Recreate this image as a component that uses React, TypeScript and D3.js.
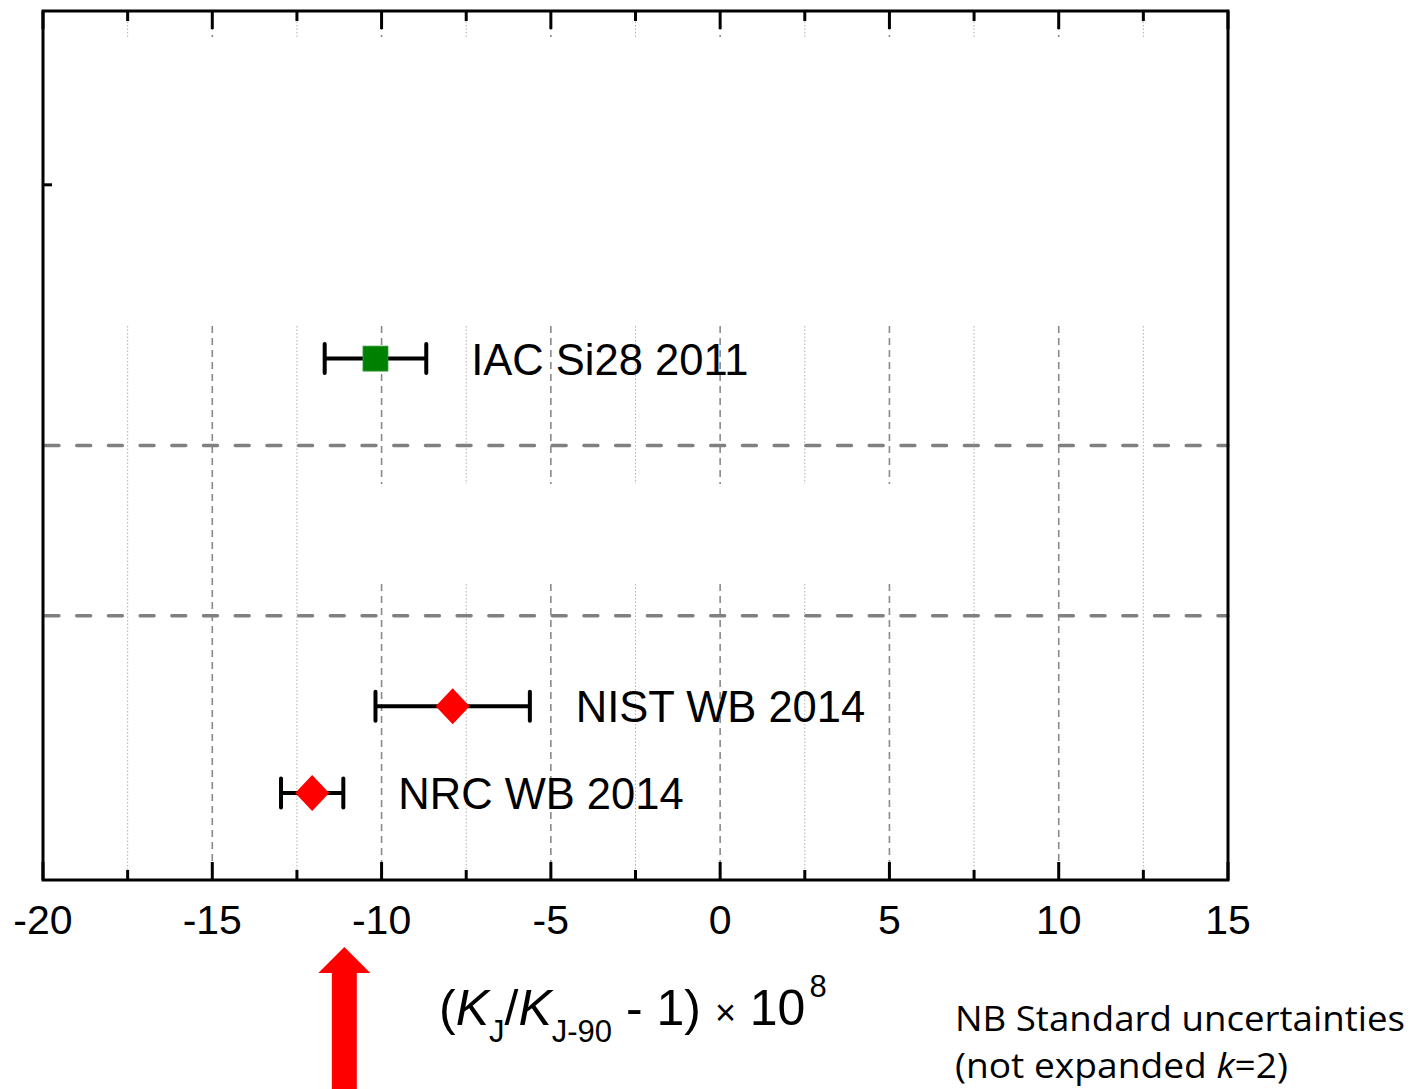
import React from "react";
import * as d3 from "d3";

// ---- data ----
const labels = ["IAC Si28 2011", "NIST WB 2014", "NRC WB 2014"];
const values = [-10.18, -7.9, -12.05];
const uncertainties = [1.5, 2.28, 0.92];
const rows = [6, 2, 1];
const markerShapes = ["square", "diamond", "diamond"];
const markerColors = ["#008000", "#ff0000", "#ff0000"];
const separatorRows = [5, 3.04];
const majorTicks = [-20, -15, -10, -5, 0, 5, 10, 15];
const minorTicks = [-17.5, -12.5, -7.5, -2.5, 2.5, 7.5, 12.5];
const yTicks = [8];
const arrowValue = -11.1;

const W = 1411;
const H = 1089;

export default function App() {
  const x = d3.scaleLinear().domain([-20, 15]).range([43, 1228]);
  const y = d3.scaleLinear().domain([0, 10]).range([880, 11]);
  const [x0, x1] = x.range();
  const [yb, yt] = y.range();

  // visible gridline segments (the original has parts of the grid masked)
  const gridSegments = (v: number): [number, number][] => {
    const segs: [number, number][] = [[yt, 37]];
    if (v >= -10 && v <= 5) {
      segs.push([326, 484]);
      segs.push([584, yb]);
    } else {
      segs.push([326, yb]);
    }
    return segs;
  };

  const ax = x(arrowValue);

  return (
    <svg
      width={W}
      height={H}
      style={{ position: "absolute", left: 0, top: 0, background: "#fff" }}
      fontFamily="'Liberation Sans', Arial, sans-serif"
    >
      <rect x={0} y={0} width={W} height={H} fill="#fff" />
      {/* minor gridlines */}
      {minorTicks.map((v) =>
        gridSegments(v).map(([a, b], i) => (
          <line
            key={`mi${v}-${i}`}
            x1={x(v)}
            x2={x(v)}
            y1={a}
            y2={b}
            stroke="#b0b0b0"
            strokeWidth={1}
            strokeDasharray="1.5 2"
          />
        ))
      )}
      {/* major gridlines */}
      {majorTicks
        .filter((v) => v > -20 && v < 15)
        .map((v) =>
          gridSegments(v).map(([a, b], i) => (
            <line
              key={`ma${v}-${i}`}
              x1={x(v)}
              x2={x(v)}
              y1={a}
              y2={b}
              stroke="#8a8a8a"
              strokeWidth={1.6}
              strokeDasharray="7 5"
            />
          ))
        )}
      {/* separators */}
      {separatorRows.map((r) => (
        <line
          key={`s${r}`}
          x1={x0 + 2}
          x2={x1}
          y1={y(r)}
          y2={y(r)}
          stroke="#808080"
          strokeWidth={3.4}
          strokeDasharray="14 17.7"
          strokeLinecap="round"
        />
      ))}
      {/* ticks */}
      {majorTicks.map((v) => (
        <g key={`t${v}`}>
          <line x1={x(v)} x2={x(v)} y1={yb} y2={yb - 18} stroke="#000" strokeWidth={3} />
          <line x1={x(v)} x2={x(v)} y1={yt} y2={yt + 18} stroke="#000" strokeWidth={3} />
        </g>
      ))}
      {minorTicks.map((v) => (
        <g key={`tm${v}`}>
          <line x1={x(v)} x2={x(v)} y1={yb} y2={yb - 10} stroke="#000" strokeWidth={3} />
          <line x1={x(v)} x2={x(v)} y1={yt} y2={yt + 10} stroke="#000" strokeWidth={3} />
        </g>
      ))}
      {yTicks.map((v) => (
        <line key={`y${v}`} x1={x0} x2={x0 + 9} y1={y(v)} y2={y(v)} stroke="#000" strokeWidth={3} />
      ))}
      {/* frame */}
      <rect x={x0} y={yt} width={x1 - x0} height={yb - yt} fill="none" stroke="#000" strokeWidth={3} />
      {/* tick labels */}
      {majorTicks.map((v) => (
        <text key={`l${v}`} x={x(v)} y={934} fontSize={41} textAnchor="middle" fill="#000">
          {v}
        </text>
      ))}
      {/* data */}
      {labels.map((lab, i) => {
        const cy = y(rows[i]);
        const lo = x(values[i] - uncertainties[i]);
        const hi = x(values[i] + uncertainties[i]);
        const cx = x(values[i]);
        return (
          <g key={lab}>
            <line x1={lo} x2={hi} y1={cy} y2={cy} stroke="#000" strokeWidth={4} />
            <line x1={lo} x2={lo} y1={cy - 14.5} y2={cy + 14.5} stroke="#000" strokeWidth={4} strokeLinecap="round" />
            <line x1={hi} x2={hi} y1={cy - 14.5} y2={cy + 14.5} stroke="#000" strokeWidth={4} strokeLinecap="round" />
            {markerShapes[i] === "square" ? (
              <rect x={cx - 12.5} y={cy - 12.5} width={25} height={25} fill={markerColors[i]} stroke="#3a9a3a" strokeWidth={0.8} />
            ) : (
              <path
                d={`M${cx},${cy - 18}L${cx + 17},${cy}L${cx},${cy + 18}L${cx - 17},${cy}Z`}
                fill={markerColors[i]}
              />
            )}
            <text x={hi + (i === 0 ? 45 : i === 1 ? 46 : 55)} y={cy + 16} fontSize={43.5} fill="#000">
              {lab}
            </text>
          </g>
        );
      })}
      {/* axis title */}
      <text x={439} y={1025} fontSize={50} fill="#000">
        <tspan>(</tspan>
        <tspan fontStyle="italic">K</tspan>
        <tspan fontSize={31} dy={17}>J</tspan>
        <tspan dy={-17}>/</tspan>
        <tspan fontStyle="italic">K</tspan>
        <tspan fontSize={31} dy={17}>J-90</tspan>
        <tspan dy={-17}> - 1) </tspan>
        <tspan fontSize={36}>×</tspan>
        <tspan> 10</tspan>
        <tspan fontSize={31} dx={4} dy={-28}>8</tspan>
      </text>
      {/* arrow */}
      <path
        d={`M${ax - 12.5},${H}L${ax - 12.5},973L${ax - 26},973L${ax},947L${ax + 26},973L${ax + 12.5},973L${ax + 12.5},${H}Z`}
        fill="#ff0000"
      />
      {/* note */}
      <text x={955} y={1031} fontSize={35} fill="#000" fontFamily="'Open Sans', 'Noto Sans', sans-serif" textLength={450} lengthAdjust="spacingAndGlyphs">
        NB Standard uncertainties
      </text>
      <text x={955} y={1078} fontSize={35} fill="#000" fontFamily="'Open Sans', 'Noto Sans', sans-serif" textLength={333} lengthAdjust="spacingAndGlyphs">
        (not expanded <tspan fontStyle="italic">k</tspan>=2)
      </text>
    </svg>
  );
}
